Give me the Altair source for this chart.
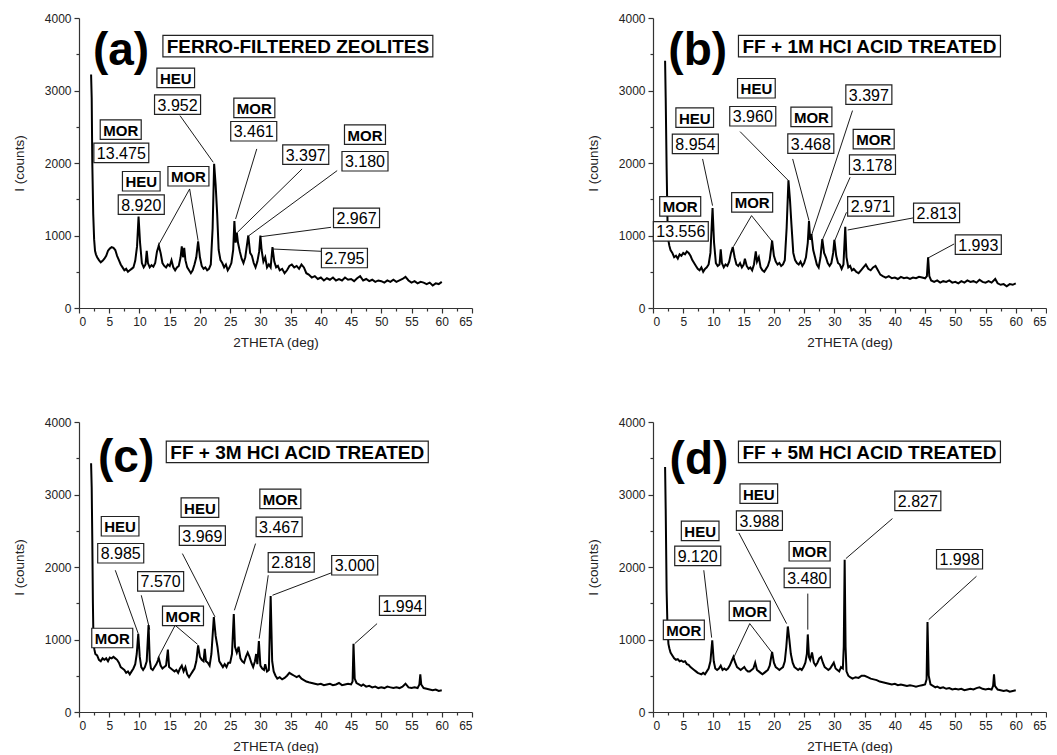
import altair as alt
import pandas as pd

# ---------------- trace data (2theta, counts) ----------------
A_X = [2.0,2.1,2.2,2.35,2.5,2.65,2.8,3.0,3.3,3.6,3.9,4.2,4.5,4.8,5.1,5.4,5.7,6.0,6.3,6.6,6.9,7.2,7.5,7.8,8.1,8.4,8.7,9.0,9.3,9.6,9.85,10.1,10.4,10.7,11.0,11.2,11.4,11.7,12.0,12.3,12.6,12.9,13.2,13.5,13.8,14.1,14.4,14.7,15.0,15.3,15.6,15.9,16.2,16.5,16.8,17.0,17.2,17.4,17.6,17.9,18.2,18.5,18.8,19.1,19.4,19.7,20.0,20.3,20.6,20.9,21.2,21.5,21.8,22.1,22.35,22.6,22.85,23.1,23.4,23.7,24.0,24.3,24.6,24.9,25.2,25.5,25.7,25.9,26.1,26.3,26.6,26.9,27.2,27.5,27.8,28.0,28.3,28.6,28.9,29.2,29.5,29.8,30.0,30.2,30.5,30.8,31.1,31.4,31.7,32.0,32.3,32.6,32.9,33.2,33.6,34.0,34.4,34.8,35.2,35.6,36.0,36.4,36.8,37.2,37.6,38.0,38.5,39.0,39.5,40.0,40.5,41.0,41.5,42.0,42.5,43.0,43.5,44.0,44.5,45.0,45.5,46.0,46.5,47.0,47.5,48.0,48.5,49.0,49.5,50.0,50.5,51.0,51.5,52.0,52.5,53.0,53.5,54.0,54.5,55.0,55.5,56.0,56.5,57.0,57.5,58.0,58.5,59.0,59.5,60.0]
A_Y = [3220,2900,2000,1300,950,790,740,700,660,630,650,680,720,790,820,840,830,800,720,660,600,560,520,540,500,520,540,560,650,850,1260,900,620,560,600,790,620,560,590,570,620,780,860,760,620,580,560,600,580,660,560,520,560,580,700,850,700,830,660,560,520,480,520,600,700,920,700,580,540,560,520,540,600,1100,1990,1700,1300,800,660,620,560,600,520,560,620,800,1200,900,1040,900,780,680,620,700,880,1000,760,720,620,560,640,780,1000,800,640,700,560,600,560,840,640,560,580,520,540,480,520,580,600,560,580,540,600,560,480,460,420,440,400,420,380,410,390,420,380,400,380,420,390,400,370,410,440,380,400,370,390,360,380,370,350,380,360,390,360,380,400,430,380,350,370,340,360,350,330,350,310,340,330,360]

B_X = [2.0,2.1,2.25,2.4,2.55,2.7,2.9,3.2,3.5,3.8,4.1,4.4,4.7,5.0,5.3,5.6,5.9,6.2,6.5,6.8,7.1,7.4,7.7,8.0,8.3,8.6,8.9,9.2,9.5,9.85,10.1,10.4,10.7,11.0,11.2,11.4,11.7,12.0,12.3,12.6,12.9,13.2,13.5,13.8,14.1,14.4,14.7,15.0,15.2,15.5,15.8,16.1,16.4,16.7,17.0,17.2,17.5,17.8,18.1,18.4,18.7,19.0,19.3,19.7,20.0,20.3,20.6,20.9,21.2,21.5,21.8,22.1,22.4,22.65,22.9,23.2,23.5,23.8,24.1,24.4,24.7,25.0,25.3,25.6,25.8,26.0,26.2,26.5,26.8,27.1,27.4,27.7,28.0,28.3,28.6,28.9,29.2,29.5,29.8,30.0,30.3,30.6,30.9,31.2,31.5,31.8,32.0,32.3,32.6,32.9,33.2,33.6,34.0,34.4,34.8,35.2,35.6,36.0,36.4,36.8,37.2,37.6,38.0,38.5,39.0,39.5,40.0,40.5,41.0,41.5,42.0,42.5,43.0,43.5,44.0,44.5,45.0,45.3,45.5,45.7,46.0,46.5,47.0,47.5,48.0,48.5,49.0,49.5,50.0,50.5,51.0,51.5,52.0,52.5,53.0,53.5,54.0,54.5,55.0,55.5,56.0,56.6,57.0,57.5,58.0,58.5,59.0,59.5,60.0]
B_Y = [3410,2900,1940,1200,930,860,800,760,700,720,680,740,720,760,740,780,760,720,660,620,580,540,520,560,500,540,560,600,760,1380,900,620,580,600,810,620,560,600,580,640,760,840,700,600,580,620,560,600,680,580,540,560,520,600,780,640,700,560,520,500,540,580,660,930,720,640,600,620,580,600,660,1100,1760,1500,1150,760,660,620,600,640,580,620,700,900,1200,940,1020,800,700,600,560,700,950,760,700,620,580,620,760,940,720,620,600,540,600,1120,700,560,580,520,540,500,480,520,560,600,540,520,560,580,520,460,440,420,440,410,420,400,430,410,420,400,420,410,430,420,410,440,700,440,380,360,380,350,370,360,380,350,360,340,370,350,380,360,370,350,390,360,350,370,350,400,340,320,330,300,330,320,340]

C_X = [2.0,2.1,2.2,2.3,2.4,2.55,2.7,3.0,3.3,3.6,3.9,4.2,4.5,4.8,5.1,5.4,5.7,6.0,6.3,6.6,6.9,7.2,7.5,7.8,8.1,8.4,8.7,9.0,9.3,9.55,9.8,10.05,10.3,10.6,10.9,11.2,11.5,11.7,11.9,12.2,12.5,12.8,13.2,13.5,13.8,14.1,14.4,14.7,14.9,15.2,15.5,15.8,16.1,16.4,16.7,17.0,17.3,17.6,17.9,18.2,18.5,18.8,19.1,19.4,19.7,20.0,20.3,20.6,20.8,21.0,21.3,21.6,21.9,22.3,22.6,22.9,23.2,23.5,23.8,24.1,24.4,24.7,25.0,25.3,25.6,25.8,26.1,26.4,26.7,27.0,27.3,27.6,27.9,28.2,28.5,28.8,29.1,29.3,29.5,29.75,30.0,30.3,30.6,30.8,31.1,31.4,31.7,31.95,32.2,32.5,32.8,33.2,33.6,34.0,34.4,34.8,35.2,35.6,36.0,36.4,36.8,37.2,37.6,38.0,38.5,39.0,39.5,40.0,40.5,41.0,41.5,42.0,42.5,43.0,43.5,44.0,44.5,45.0,45.25,45.4,45.6,45.9,46.3,46.7,47.0,47.5,48.0,48.5,49.0,49.5,50.0,50.5,51.0,51.5,52.0,52.5,53.0,53.5,54.0,54.5,55.0,55.5,56.0,56.3,56.45,56.6,57.0,57.5,58.0,58.5,59.0,59.5,60.0]
C_Y = [3430,3100,2370,1500,940,860,800,780,720,700,740,720,740,700,750,740,760,740,720,680,620,600,580,540,560,520,560,600,660,800,1080,760,620,580,620,700,1200,720,600,580,620,660,740,640,600,620,640,860,620,600,580,560,580,540,600,640,560,620,520,480,520,560,600,700,920,760,720,700,870,700,680,640,800,1310,1050,900,700,660,620,660,620,680,680,800,1350,900,820,900,740,700,680,760,820,760,680,620,700,800,660,980,640,600,580,660,560,580,1600,700,560,500,460,480,450,470,500,540,520,500,480,500,460,440,420,410,400,390,380,390,370,380,390,370,380,400,370,380,390,380,420,940,460,400,380,360,380,350,360,340,350,330,340,330,350,340,330,340,330,350,390,340,330,340,330,380,520,380,330,320,310,300,310,290,300]

D_X = [2.0,2.1,2.25,2.4,2.55,2.7,2.9,3.2,3.5,3.8,4.1,4.4,4.7,5.0,5.3,5.6,5.9,6.2,6.5,6.8,7.1,7.4,7.7,8.0,8.3,8.6,8.9,9.2,9.5,9.8,10.05,10.3,10.6,10.9,11.2,11.5,11.8,12.1,12.4,12.7,13.0,13.3,13.6,13.9,14.2,14.5,14.8,15.1,15.4,15.7,16.0,16.3,16.6,16.9,17.2,17.5,17.8,18.1,18.4,18.7,19.0,19.3,19.7,20.0,20.3,20.6,20.9,21.2,21.5,21.8,22.05,22.3,22.55,22.8,23.1,23.4,23.7,24.0,24.3,24.6,24.9,25.2,25.45,25.6,25.8,26.0,26.3,26.6,26.9,27.2,27.5,27.8,28.1,28.4,28.7,29.0,29.3,29.6,29.9,30.2,30.5,30.8,31.1,31.4,31.55,31.7,31.85,32.0,32.3,32.6,33.0,33.5,34.0,34.5,35.0,35.5,36.0,36.5,37.0,37.5,38.0,38.5,39.0,39.5,40.0,40.5,41.0,41.5,42.0,42.5,43.0,43.5,44.0,44.5,45.0,45.25,45.4,45.6,45.9,46.3,46.7,47.0,47.5,48.0,48.5,49.0,49.5,50.0,50.5,51.0,51.5,52.0,52.5,53.0,53.5,54.0,54.5,55.0,55.5,56.0,56.25,56.4,56.55,57.0,57.5,58.0,58.5,59.0,59.5,60.0]
D_Y = [3380,2800,1680,1150,940,880,820,780,740,720,730,700,710,690,700,660,650,620,600,580,560,540,530,520,540,520,560,600,700,990,700,600,580,600,640,580,600,580,600,640,700,760,680,620,600,580,600,620,580,560,560,580,600,680,580,560,540,520,540,560,580,640,830,680,620,600,580,600,620,700,900,1180,1000,800,680,620,600,580,600,580,620,680,800,1070,760,720,820,680,640,680,740,760,680,620,600,580,600,640,680,600,580,560,620,600,900,2100,900,560,500,480,460,480,470,500,500,480,460,450,440,420,410,400,390,380,390,370,380,370,360,370,360,350,360,370,380,450,1240,500,380,360,340,350,330,340,320,330,310,320,310,320,300,310,320,310,330,340,320,310,320,310,360,520,360,310,300,290,300,280,290,300]

# ---------------- annotations ----------------
A_TAG_TEXT = ["MOR", "13.475", "HEU", "8.920", "HEU", "3.952", "MOR", "MOR", "3.461", "3.397", "MOR", "3.180", "2.967", "2.795"]
A_TAG_X = [6.9, 7.0, 10.3, 10.3, 16.0, 16.3, 18.1, 29.0, 28.9, 37.5, 47.3, 47.3, 45.9, 43.9]
A_TAG_Y = [2461, 2139, 1748, 1426, 3174, 2806, 1817, 2760, 2438, 2116, 2392, 2024, 1242, 690]
A_LEAD_X1 = [16.7, 29.4, 36.9, 42.7, 41.7, 40.1, 18.3, 18.3]
A_LEAD_Y1 = [2654, 2194, 1918, 1895, 1113, 782, 1642, 1642]
A_LEAD_X2 = [22.2, 25.9, 26.2, 28.1, 30.1, 32.0, 13.1, 19.7]
A_LEAD_Y2 = [2010, 1228, 1044, 998, 984, 814, 860, 929]

B_TAG_TEXT = ["MOR", "13.556", "HEU", "8.954", "MOR", "HEU", "3.960", "MOR", "3.468", "3.397", "MOR", "3.178", "2.971", "2.813", "1.993"]
B_TAG_X = [4.5, 4.6, 6.9, 7.0, 16.4, 17.1, 16.5, 26.2, 26.1, 35.7, 36.5, 36.3, 36.0, 46.9, 53.8]
B_TAG_Y = [1403, 1058, 2627, 2263, 1458, 3031, 2645, 2636, 2268, 2944, 2328, 1978, 1403, 1311, 874]
B_LEAD_X1 = [14.4, 8.2, 23.1, 33.0, 32.6, 32.0, 43.0, 49.8, 16.3, 16.3]
B_LEAD_Y1 = [2433, 2056, 2056, 2723, 1803, 1320, 1242, 883, 1274, 1274]
B_LEAD_X2 = [22.4, 9.85, 25.8, 26.2, 28.0, 30.1, 32.2, 45.5, 13.3, 19.7]
B_LEAD_Y2 = [1757, 1412, 1205, 998, 938, 938, 1076, 690, 846, 920]

C_TAG_TEXT = ["MOR", "HEU", "8.985", "7.570", "MOR", "HEU", "3.969", "MOR", "3.467", "2.818", "3.000", "1.994"]
C_TAG_X = [5.5, 6.8, 6.9, 13.5, 17.2, 20.0, 20.4, 33.3, 33.1, 35.1, 45.6, 53.5]
C_TAG_Y = [1021, 2562, 2190, 1803, 1325, 2820, 2433, 2939, 2553, 2065, 2024, 1467]
C_LEAD_X1 = [6.0, 10.3, 17.1, 29.2, 31.3, 41.7, 49.3, 15.9, 15.9]
C_LEAD_Y1 = [1955, 1610, 2185, 2323, 1886, 1918, 1219, 1196, 1196]
C_LEAD_X2 = [9.8, 11.7, 22.5, 25.7, 29.8, 32.0, 45.6, 13.0, 19.6]
C_LEAD_Y2 = [1081, 1136, 1311, 1403, 1012, 1610, 943, 736, 934]

D_TAG_TEXT = ["MOR", "HEU", "9.120", "MOR", "HEU", "3.988", "MOR", "3.480", "2.827", "1.998"]
D_TAG_X = [5.1, 7.8, 7.4, 16.0, 17.5, 17.6, 25.9, 25.5, 43.8, 50.7]
D_TAG_Y = [1132, 2498, 2153, 1394, 3013, 2640, 2217, 1849, 2912, 2107]
D_LEAD_X1 = [8.4, 14.2, 25.6, 39.6, 53.5, 16.0, 16.0]
D_LEAD_Y1 = [1955, 2470, 1633, 2668, 1872, 1219, 1219]
D_LEAD_X2 = [9.7, 22.1, 25.6, 31.9, 45.6, 13.4, 19.6]
D_LEAD_Y2 = [1026, 1219, 1136, 2116, 1274, 759, 828]

TITLE_TEXT = ["FERRO-FILTERED ZEOLITES", "FF + 1M HCl ACID TREATED", "FF + 3M HCl ACID TREATED", "FF + 5M HCl ACID TREATED"]
TITLE_X = [36.2, 35.8, 36.1, 35.8]
TITLE_Y = [3611, 3611, 3588, 3588]
LETTER_TEXT = ["(a)", "(b)", "(c)", "(d)"]
LETTER_X = [6.95, 7.4, 7.8, 7.6]
LETTER_Y = [3538, 3551, 3510, 3480]

X_TICKS = [0, 2.5, 5, 7.5, 10, 12.5, 15, 17.5, 20, 22.5, 25, 27.5, 30, 32.5, 35, 37.5, 40, 42.5, 45, 47.5, 50, 52.5, 55, 57.5, 60, 62.5, 65]
Y_TICKS = [0, 500, 1000, 1500, 2000, 2500, 3000, 3500, 4000]

# ---------------- layout helpers ----------------
FONT = "Liberation Sans"
PW, PH = 393, 290
XMAX, YMAX = 65, 4000
UX = XMAX / PW  # data units per px
UY = YMAX / PH

BOLD_W = {'A': .722, 'C': .722, 'D': .722, 'E': .667, 'F': .611, 'H': .722, 'I': .278, 'L': .611,
          'M': .833, 'O': .778, 'R': .722, 'S': .667, 'T': .611, 'U': .722, 'Z': .611, ' ': .278,
          '+': .584, '-': .333, 'l': .278, '.': .278}


def text_w(s, size):
    return sum(BOLD_W.get(ch, .556) for ch in s) * size


NUM_SIZE, TAG_SIZE, TITLE_SIZE, LETTER_SIZE = 16, 15, 19, 46

XSCALE = alt.Scale(domain=[0, XMAX], nice=False, zero=False)
YSCALE = alt.Scale(domain=[0, YMAX], nice=False, zero=False)
XAXIS = alt.Axis(values=X_TICKS, title="2THETA (deg)", labelOverlap=False, grid=False,
                 labelExpr="datum.value % 5 == 0 ? format(datum.value, 'd') : ''",
                 tickSize={"condition": {"test": "datum.value % 5 != 0", "value": 3}, "value": 5})
YAXIS = alt.Axis(values=Y_TICKS, title="I (counts)", labelOverlap=False, grid=False,
                 labelExpr="datum.value % 1000 == 0 ? format(datum.value, 'd') : ''",
                 tickSize={"condition": {"test": "datum.value % 1000 != 0", "value": 3}, "value": 5})


def X(field):
    return alt.X(field, type="quantitative", scale=XSCALE, axis=XAXIS)


def Y(field):
    return alt.Y(field, type="quantitative", scale=YSCALE, axis=YAXIS)


def panel(i, xs, ys, tag_text, tag_x, tag_y, lx1, ly1, lx2, ly2):
    trace = pd.DataFrame({"x": xs, "y": ys})
    tags = pd.DataFrame({"t": tag_text, "x": tag_x, "y": tag_y})
    tags["bold"] = tags["t"].str.isalpha()
    tags["w"] = [text_w(t, TAG_SIZE if b else NUM_SIZE) + 6 for t, b in zip(tags["t"], tags["bold"])]
    tags["h"] = 19.5
    ttl = pd.DataFrame({"t": [TITLE_TEXT[i]], "x": [TITLE_X[i]], "y": [TITLE_Y[i]], "bold": [True]})
    ttl["w"] = text_w(TITLE_TEXT[i], TITLE_SIZE) + 6
    ttl["h"] = 21.5
    boxes = pd.concat([tags, ttl], ignore_index=True)
    boxes["x1"] = boxes["x"] - boxes["w"] / 2 * UX
    boxes["x2"] = boxes["x"] + boxes["w"] / 2 * UX
    boxes["y1"] = boxes["y"] - boxes["h"] / 2 * UY
    boxes["y2"] = boxes["y"] + boxes["h"] / 2 * UY
    leads = pd.DataFrame({"x": lx1, "y": ly1, "x2": lx2, "y2": ly2})
    letter = pd.DataFrame({"t": [LETTER_TEXT[i]], "x": [LETTER_X[i]], "y": [LETTER_Y[i]]})

    line = alt.Chart(trace).mark_line(color="black", strokeWidth=2.0, clip=True).encode(
        x=X("x"), y=Y("y"), order="x:Q")
    rules = alt.Chart(leads).mark_rule(color="black", strokeWidth=0.9).encode(
        x=X("x"), y=Y("y"), x2="x2:Q", y2="y2:Q")
    rects = alt.Chart(boxes).mark_rect(fill="white", stroke="#222", strokeWidth=1.2).encode(
        x=X("x1"), x2="x2:Q", y=Y("y1"), y2="y2:Q")
    num_txt = alt.Chart(tags[~tags["bold"]]).mark_text(
        font=FONT, fontSize=NUM_SIZE, color="black", align="center", baseline="middle", dy=1).encode(
        x=X("x"), y=Y("y"), text="t:N")
    tag_txt = alt.Chart(tags[tags["bold"]]).mark_text(
        font=FONT, fontSize=TAG_SIZE, fontWeight="bold", color="black", align="center", baseline="middle", dy=1).encode(
        x=X("x"), y=Y("y"), text="t:N")
    ttl_txt = alt.Chart(ttl).mark_text(
        font=FONT, fontSize=TITLE_SIZE, fontWeight="bold", color="black", align="center", baseline="middle", dy=1).encode(
        x=X("x"), y=Y("y"), text="t:N")
    let_txt = alt.Chart(letter).mark_text(
        font=FONT, fontSize=LETTER_SIZE, fontWeight="bold", color="black", align="center", baseline="middle").encode(
        x=X("x"), y=Y("y"), text="t:N")
    return alt.layer(line, rules, rects, num_txt, tag_txt, ttl_txt, let_txt).properties(width=PW, height=PH)


pa = panel(0, A_X, A_Y, A_TAG_TEXT, A_TAG_X, A_TAG_Y, A_LEAD_X1, A_LEAD_Y1, A_LEAD_X2, A_LEAD_Y2)
pb = panel(1, B_X, B_Y, B_TAG_TEXT, B_TAG_X, B_TAG_Y, B_LEAD_X1, B_LEAD_Y1, B_LEAD_X2, B_LEAD_Y2)
pc = panel(2, C_X, C_Y, C_TAG_TEXT, C_TAG_X, C_TAG_Y, C_LEAD_X1, C_LEAD_Y1, C_LEAD_X2, C_LEAD_Y2)
pd_ = panel(3, D_X, D_Y, D_TAG_TEXT, D_TAG_X, D_TAG_Y, D_LEAD_X1, D_LEAD_Y1, D_LEAD_X2, D_LEAD_Y2)

chart = alt.vconcat(
    alt.hconcat(pa, pb, spacing=113),
    alt.hconcat(pc, pd_, spacing=113),
    spacing=67,
).properties(
    padding={"left": 4, "top": 4, "right": 0, "bottom": 0}
).configure_view(
    strokeWidth=0
).configure_axis(
    labelFont=FONT, labelFontSize=12, labelColor="#222",
    titleFont=FONT, titleFontSize=13.5, titleFontWeight="normal", titleColor="#222",
    domainColor="#333", tickColor="#333", domainWidth=1.2, tickWidth=1.2,
    labelPadding=3, titlePadding=18
).configure_axisX(titlePadding=8)

chart.save("out.html", embed_options={"renderer": "svg", "actions": False})
